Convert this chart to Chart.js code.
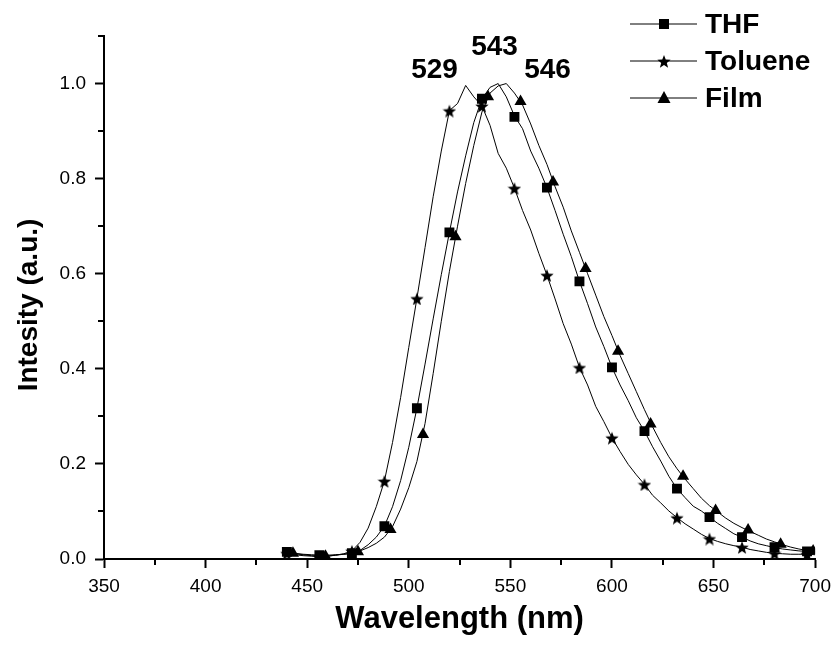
<!DOCTYPE html>
<html>
<head>
<meta charset="utf-8">
<script src="https://cdn.jsdelivr.net/npm/chart.js@4/dist/chart.umd.min.js"></script>
<style>
  body { margin: 0; background: #fff; }
  #wrap { width: 838px; height: 650px; }
</style>
</head>
<body>
<div id="wrap"><canvas id="spectra" width="838" height="650"></canvas></div>
<script>
// emission spectra (4 nm grid)
const wavelengths = [440,444,448,452,456,460,464,468,472,476,480,484,488,492,496,500,504,508,512,516,520,524,528,532,536,540,544,548,552,556,560,564,568,572,576,580,584,588,592,596,600,604,608,612,616,620,624,628,632,636,640,644,648,652,656,660,664,668,672,676,680,684,688,692,696,700];

const thf = [0.015,0.012,0.010,0.009,0.008,0.008,0.009,0.010,0.012,0.018,0.030,0.046,0.069,0.110,0.165,0.235,0.317,0.410,0.505,0.598,0.687,0.772,0.848,0.918,0.968,0.992,1.000,0.972,0.932,0.905,0.858,0.822,0.781,0.733,0.683,0.636,0.584,0.537,0.488,0.447,0.403,0.366,0.333,0.297,0.269,0.236,0.206,0.174,0.148,0.129,0.111,0.101,0.088,0.075,0.064,0.053,0.046,0.038,0.032,0.028,0.024,0.021,0.019,0.017,0.016,0.015];

const toluene = [0.012,0.009,0.007,0.006,0.005,0.006,0.008,0.011,0.017,0.035,0.065,0.110,0.164,0.245,0.340,0.445,0.548,0.655,0.762,0.858,0.943,0.958,0.996,0.972,0.953,0.912,0.853,0.822,0.780,0.733,0.692,0.643,0.597,0.547,0.495,0.452,0.403,0.366,0.321,0.289,0.255,0.226,0.199,0.177,0.157,0.134,0.118,0.101,0.087,0.074,0.063,0.052,0.043,0.037,0.032,0.028,0.025,0.020,0.017,0.014,0.012,0.011,0.010,0.010,0.010,0.009];

const film = [0.013,0.011,0.009,0.007,0.006,0.006,0.008,0.010,0.012,0.017,0.024,0.033,0.046,0.068,0.105,0.150,0.205,0.285,0.390,0.500,0.605,0.700,0.790,0.870,0.940,0.980,0.995,1.000,0.980,0.955,0.915,0.870,0.830,0.783,0.740,0.690,0.645,0.600,0.555,0.510,0.470,0.428,0.390,0.352,0.314,0.278,0.245,0.215,0.190,0.168,0.148,0.128,0.112,0.099,0.086,0.075,0.066,0.058,0.050,0.042,0.036,0.030,0.025,0.021,0.018,0.016];

// symbols every 16 nm
const markerWl = [440,456,472,488,504,520,536,552,568,584,600,616,632,648,664,680,696];
const thfMarks = [0.015,0.008,0.012,0.069,0.317,0.687,0.968,0.930,0.781,0.584,0.403,0.269,0.148,0.088,0.046,0.025,0.016];
const tolueneMarks = [0.012,0.005,0.017,0.164,0.548,0.943,0.953,0.780,0.597,0.403,0.255,0.157,0.087,0.043,0.025,0.012,0.010];
const filmMarkWl = [443,459,475,491,507,523,539,555,571,587,603,619,635,651,667,683,699];
const filmMarks = [0.012,0.006,0.015,0.062,0.262,0.678,0.972,0.962,0.793,0.611,0.437,0.284,0.174,0.102,0.061,0.031,0.017];

const peakLabels = ["529", "543", "546"];
const peakAt = [[512.7, 1.027], [542.2, 1.076], [568.3, 1.027]];

const FONT = "'Liberation Sans', Arial, sans-serif";

function starImage(size) {
  const c = document.createElement("canvas");
  c.width = size; c.height = size;
  const g = c.getContext("2d");
  g.fillStyle = "#000";
  g.beginPath();
  for (let i = 0; i < 10; i++) {
    const r = i % 2 ? size * 0.21 : size * 0.5;
    const a = -Math.PI / 2 + i * Math.PI / 5;
    g.lineTo(size / 2 + r * Math.cos(a), size / 2 + 1 + r * Math.sin(a));
  }
  g.closePath();
  g.fill();
  return c;
}
const star = starImage(14);

const pts = (xs, ys) => xs.map((x, i) => ({ x: x, y: ys[i] }));

function lineSet(label, ys) {
  return { label: label, data: pts(wavelengths, ys), borderColor: "#000", borderWidth: 1,
           pointRadius: 0, tension: 0, fill: false };
}
function markSet(label, xs, ys, style, r) {
  return { label: label, data: pts(xs, ys), showLine: false, pointStyle: style, pointRadius: r,
           pointBackgroundColor: "#000", pointBorderColor: "#000", pointBorderWidth: 0 };
}

// short ticks between the labelled ones, y title, peak numbers, legend
const extras = {
  id: "extras",
  afterDraw(chart) {
    const ctx = chart.ctx;
    const xs = chart.scales.x, ys = chart.scales.y;
    const ca = chart.chartArea;
    ctx.save();
    ctx.strokeStyle = "#000";
    ctx.lineWidth = 2;
    ctx.beginPath();
    for (let v = 375; v < 700; v += 50) {
      const px = Math.round(xs.getPixelForValue(v));
      ctx.moveTo(px, ca.bottom); ctx.lineTo(px, ca.bottom + 6);
    }
    for (let v = 0.1; v < 1.15; v += 0.2) {
      const py = Math.round(ys.getPixelForValue(v));
      ctx.moveTo(ca.left, py); ctx.lineTo(ca.left - 6, py);
    }
    ctx.stroke();

    ctx.fillStyle = "#000";
    ctx.textAlign = "center";
    ctx.textBaseline = "middle";

    ctx.save();
    ctx.translate(29, 305);
    ctx.rotate(-Math.PI / 2);
    ctx.font = "bold 28px " + FONT;
    ctx.fillText("Intesity (a.u.)", 0, 0);
    ctx.restore();

    ctx.font = "bold 28px " + FONT;
    peakLabels.forEach((t, i) => {
      ctx.fillText(t, xs.getPixelForValue(peakAt[i][0]), ys.getPixelForValue(peakAt[i][1]));
    });

    // legend
    const rows = [["THF", "rect"], ["Toluene", "star"], ["Film", "tri"]];
    ctx.font = "bold 28px " + FONT;
    ctx.textAlign = "left";
    rows.forEach((row, i) => {
      const y = 24 + i * 37;
      ctx.lineWidth = 1;
      ctx.beginPath();
      ctx.moveTo(630, y); ctx.lineTo(697, y);
      ctx.stroke();
      if (row[1] === "rect") ctx.fillRect(659, y - 5, 10, 10);
      else if (row[1] === "star") ctx.drawImage(star, 657, y - 7);
      else {
        ctx.beginPath();
        ctx.moveTo(664, y - 7); ctx.lineTo(670.5, y + 5); ctx.lineTo(657.5, y + 5);
        ctx.closePath(); ctx.fill();
      }
      ctx.fillText(row[0], 705, y + 1);
    });
    ctx.restore();
  }
};

new Chart(document.getElementById("spectra"), {
  type: "line",
  data: {
    datasets: [
      lineSet("THF", thf),
      lineSet("Toluene", toluene),
      lineSet("Film", film),
      markSet("THF pts", markerWl, thfMarks, "rect", 7),
      markSet("Toluene pts", markerWl, tolueneMarks, star, 7),
      markSet("Film pts", filmMarkWl, filmMarks, "triangle", 7)
    ]
  },
  options: {
    responsive: false,
    animation: false,
    layout: { padding: { top: 36, right: 22, left: 0, bottom: 0 } },
    plugins: { legend: { display: false }, tooltip: { enabled: false } },
    scales: {
      x: {
        type: "linear", min: 350, max: 700,
        afterFit: (s) => { s.height = 91; },
        border: { display: true, color: "#000", width: 2 },
        grid: { drawOnChartArea: false, drawTicks: true, tickLength: 9, tickWidth: 2, tickColor: "#000" },
        ticks: { stepSize: 50, color: "#000", padding: 7, maxRotation: 0, font: { family: FONT, size: 19 } },
        title: { display: true, text: "Wavelength (nm)", color: "#000", padding: { top: 0, bottom: 12 },
                 font: { family: FONT, size: 31, weight: "bold" } }
      },
      y: {
        min: 0, max: 1.1,
        afterFit: (s) => { s.width = 104; },
        border: { display: true, color: "#000", width: 2 },
        grid: { drawOnChartArea: false, drawTicks: true, tickLength: 9, tickWidth: 2, tickColor: "#000" },
        ticks: { stepSize: 0.2, includeBounds: false, color: "#000", padding: 9,
                 font: { family: FONT, size: 19 }, callback: (v) => v.toFixed(1) }
      }
    }
  },
  plugins: [extras]
});
</script>
</body>
</html>
